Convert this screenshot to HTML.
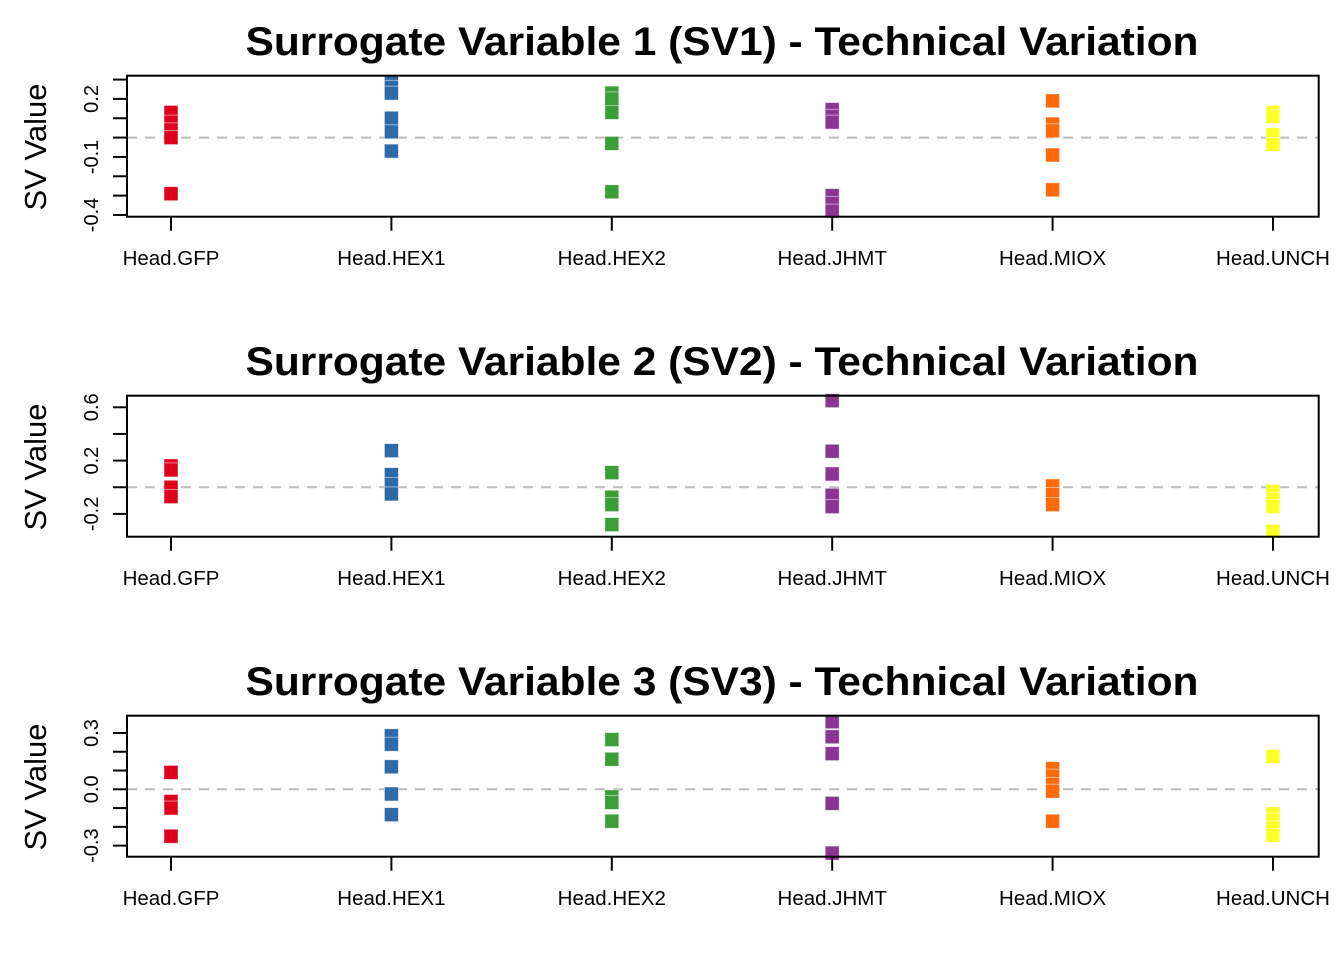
<!DOCTYPE html>
<html><head><meta charset="utf-8"><style>
html,body{margin:0;padding:0;background:#fff;}
svg{display:block;font-family:"Liberation Sans",Arial,sans-serif;}
</style></head><body>
<svg id="chart" width="1344" height="960" viewBox="0 0 1344 960" xmlns="http://www.w3.org/2000/svg"></svg>
<script>
const categories = ["Head.GFP","Head.HEX1","Head.HEX2","Head.JHMT","Head.MIOX","Head.UNCH"];
const groupColors = ["#DF001D","#2F6AA8","#3C9E37","#8A3794","#FF6A0A","#FFFF29"];
const titles = ["Surrogate Variable 1 (SV1) - Technical Variation","Surrogate Variable 2 (SV2) - Technical Variation","Surrogate Variable 3 (SV3) - Technical Variation"];
const sv1Values = [
  [0.13,0.08,0.04,0.0,-0.29],
  [0.29,0.26,0.23,0.1,0.03,-0.07],
  [0.23,0.2,0.13,-0.03,-0.28],
  [0.145,0.11,0.08,-0.3,-0.34,-0.38],
  [0.19,0.07,0.035,-0.09,-0.27],
  [0.13,0.11,0.015,-0.035]
];
const sv2Values = [
  [0.16,0.13,0.0,-0.07],
  [0.275,0.095,0.02,-0.05],
  [0.11,-0.075,-0.13,-0.28],
  [0.65,0.27,0.1,-0.06,-0.145],
  [0.01,-0.055,-0.13],
  [-0.03,-0.09,-0.145,-0.33]
];
const sv3Values = [
  [0.09,-0.065,-0.1,-0.25],
  [0.285,0.24,0.12,-0.025,-0.135],
  [0.265,0.16,-0.04,-0.07,-0.17],
  [0.36,0.28,0.19,-0.075,-0.34],
  [0.11,0.07,0.025,-0.01,-0.17],
  [0.175,-0.13,-0.165,-0.205,-0.245]
];
const yRanges = [[-0.409,0.32],[-0.371,0.687],[-0.359,0.392]];
const yTicks = [[-0.4,-0.3,-0.2,-0.1,0,0.1,0.2,0.3],[-0.2,0,0.2,0.4,0.6],[-0.3,-0.2,-0.1,0,0.1,0.2,0.3]];
const yTickLabels = [["-0.4","-0.1","0.2"],["-0.2","0.2","0.6"],["-0.3","0.0","0.3"]];
const yTickLabelValues = [[-0.4,-0.1,0.2],[-0.2,0.2,0.6],[-0.3,0,0.3]];
const allValues = [sv1Values, sv2Values, sv3Values];

const NS = "http://www.w3.org/2000/svg";
const svg = document.getElementById("chart");
function mk(tag, attrs, parent){
  const e = document.createElementNS(NS, tag);
  for (const k in attrs) e.setAttribute(k, attrs[k]);
  (parent||svg).appendChild(e);
  return e;
}
const L = 127, R = 1318.7;
function xScale(i){ return 171 + i*220.4; }

allValues.forEach((vals, p) => {
  const off = p*320;
  const top = 75.7 + off, bot = 216.7 + off;
  const [y0, y1] = yRanges[p];
  const yScale = v => bot - (v - y0)/(y1 - y0)*(bot - top);
  const g = mk("g", {});
  
  

  const t = mk("text", {x: 722, y: 55+off, "text-anchor":"middle", "font-size":"40", "font-weight":"bold", fill:"#000", textLength:"953", lengthAdjust:"spacingAndGlyphs"}, g);
  t.textContent = titles[p];
  
  

  const yl = mk("text", {transform:`translate(46,${147+off}) rotate(-90)`, "text-anchor":"middle", "font-size":"31", fill:"#000"}, g);
  yl.textContent = "SV Value";
  
  

  const zl = mk("line", {x1:L, x2:R, y1:yScale(0), y2:yScale(0), stroke:"#BBBBBB", "stroke-width":"2", "stroke-dasharray":"10,8"}, g);
  
  

  vals.forEach((arr, gi) => {
    arr.forEach(v => {
      let cy = yScale(v);
      const r = mk("rect", {x: xScale(gi)-7, y: cy-7, width:14, height:14, fill: groupColors[gi], stroke:"rgba(255,255,255,0.6)", "stroke-width":"0.8"}, g);
      
      
    });
  });

  const box = mk("rect", {x:L, y:top, width:R-L, height:bot-top, fill:"none", stroke:"#000", "stroke-width":"2"}, g);
  
  

  const ya = mk("g", {}, g);
  
  
  const yt = yTicks[p];
  mk("line", {x1:L, x2:L, y1:yScale(yt[0]), y2:yScale(yt[yt.length-1]), stroke:"#000", "stroke-width":"2"}, ya);
  yt.forEach(v => mk("line", {x1:L-14, x2:L, y1:yScale(v), y2:yScale(v), stroke:"#000", "stroke-width":"2"}, ya));
  yTickLabels[p].forEach((lab, k) => {
    const tl = mk("text", {transform:`translate(98,${yScale(yTickLabelValues[p][k])}) rotate(-90)`, "text-anchor":"middle", "font-size":"20", fill:"#000"}, ya);
    tl.textContent = lab;
    
    
  });

  const xa = mk("g", {}, g);
  
  
  categories.forEach((c, i) => {
    mk("line", {x1:xScale(i), x2:xScale(i), y1:bot, y2:bot+14, stroke:"#000", "stroke-width":"2"}, xa);
    const xl = mk("text", {x:xScale(i), y:265+off, "text-anchor":"middle", "font-size":"20.5", fill:"#000"}, xa);
    xl.textContent = c;
    
    
  });
});
</script>
</body></html>
